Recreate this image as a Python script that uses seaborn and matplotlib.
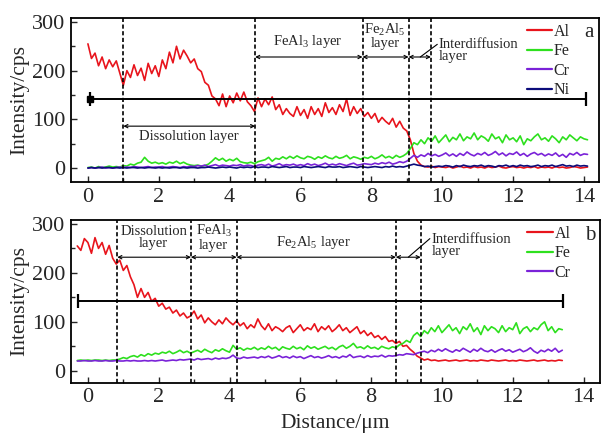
import matplotlib
matplotlib.use("Agg")
import matplotlib.pyplot as plt
from matplotlib.ticker import MultipleLocator
import numpy as np
import pandas as pd
import seaborn as sns

# sampling grids (um)
X_A = np.round(np.arange(142) * 0.1, 1)          # 0.0 .. 14.1
X_B = np.round(np.arange(138) * 0.1 - 0.3, 1)    # -0.3 .. 13.4

# panel a line scans (cps)
AL_A = [255, 225, 236, 210, 228, 204, 222, 208, 220, 195,
        170, 200, 186, 212, 190, 205, 180, 215, 194, 210,
        188, 222, 204, 238, 216, 250, 224, 242, 230, 216,
        224, 204, 198, 176, 170, 148, 142, 128, 152, 126,
        148, 134, 154, 138, 156, 136, 128, 116, 144, 126,
        142, 130, 146, 120, 130, 110, 122, 112, 106, 126,
        108, 120, 102, 126, 110, 122, 106, 134, 114, 124,
        110, 130, 116, 142, 108, 126, 112, 122, 106, 114,
        102, 112, 94, 104, 96, 90, 102, 84, 96, 82,
        76, 58, 30, 14, 6, 3, 2, 4, 1, 3,
        2, 1, 3, 0, 2, 4, 1, 2, 0, 3,
        1, 2, 0, 3, 1, 2, 4, 1, 0, 2,
        3, 1, 2, 0, 2, 1, 3, 0, 2, 1,
        2, 0, 3, 1, 2, 0, 1, 3, 2, 0, 1, 2]
FE_A = [1, 2, 0, 3, 1, 2, 4, 2, 3, 2,
        5, 4, 8, 6, 10, 12, 22, 14, 10, 12,
        9, 11, 8, 12, 10, 14, 9, 12, 8, 6,
        5, 6, 4, 5, 8, 14, 21, 16, 20, 14,
        18, 15, 20, 13, 11, 10, 12, 9, 13, 15,
        17, 22, 14, 20, 18, 23, 19, 24, 20, 25,
        21, 19, 24, 22, 18, 23, 20, 25, 21, 19,
        24, 20, 22, 26, 19, 23, 21, 18, 22, 20,
        24, 19, 22, 27, 21, 24, 20, 26, 22, 25,
        30, 40, 52, 48, 58, 50, 62, 55, 66, 52,
        60, 68, 54, 63, 58, 70, 56, 64, 60, 72,
        58, 66, 62, 55, 70, 60, 64, 52, 68, 58,
        62, 54, 66, 48, 60, 56, 64, 70, 58, 62,
        55, 66, 60, 52, 64, 58, 68, 62, 56, 64, 60, 58]
CR_A = [0, 1, 0, 1, 2, 0, 1, 0, 1, 2,
        1, 2, 1, 3, 2, 1, 2, 3, 1, 2,
        2, 3, 1, 2, 3, 2, 1, 3, 2, 4,
        3, 5, 4, 6, 3, 5, 7, 4, 6, 5,
        4, 6, 5, 7, 4, 6, 5, 3, 6, 7,
        5, 8, 4, 6, 9, 5, 7, 6, 8, 5,
        7, 5, 9, 6, 8, 5, 7, 10, 6, 8,
        6, 9, 7, 5, 8, 10, 6, 7, 9, 8,
        7, 10, 8, 11, 9, 12, 8, 10, 13, 11,
        14, 20, 26, 22, 27, 24, 30, 25, 28, 24,
        27, 31, 25, 29, 24, 30, 26, 33, 28, 25,
        30, 27, 32, 26, 29, 34, 27, 31, 25, 30,
        28, 33, 26, 30, 24, 29, 32, 27, 30, 25,
        29, 26, 31, 24, 28, 22, 30, 27, 32, 26, 29, 28]
NI_A = [0, 1, 0, 1, 0, 1, 1, 0, 1, 0,
        1, 0, 1, 1, 0, 1, 0, 1, 1, 0,
        1, 0, 1, 0, 1, 1, 0, 1, 0, 1,
        1, 0, 1, 1, 2, 1, 0, 1, 2, 1,
        2, 1, 0, 2, 1, 2, 1, 3, 1, 2,
        2, 1, 3, 2, 1, 2, 3, 1, 2, 2,
        1, 3, 2, 1, 2, 3, 2, 1, 3, 2,
        2, 3, 1, 2, 3, 2, 1, 3, 2, 1,
        2, 3, 2, 1, 3, 2, 4, 2, 3, 2,
        4, 6, 8, 6, 5, 3, 4, 2, 3, 4,
        3, 5, 4, 2, 5, 3, 6, 4, 3, 5,
        4, 6, 3, 5, 4, 2, 5, 4, 6, 3,
        5, 3, 6, 4, 5, 3, 4, 6, 3, 5,
        4, 6, 3, 5, 7, 4, 5, 3, 6, 4, 5, 4]

# panel b line scans (cps)
AL_B = [255, 246, 270, 262, 240, 272, 250, 262, 238, 256,
        230, 218, 226, 205, 215, 192, 176, 150, 168, 150,
        160, 142, 148, 132, 138, 126, 130, 118, 124, 112,
        118, 108, 112, 122, 106, 114, 98, 108, 100, 94,
        104, 96, 108, 100, 94, 102, 92, 98, 86, 94,
        88, 106, 92, 84, 96, 82, 90, 86, 80, 88,
        92, 78, 86, 94, 82, 88, 84, 96, 80, 90,
        84, 92, 80, 86, 94, 82, 88, 78, 84, 90,
        76, 82, 72, 78, 68, 72, 64, 70, 60, 62,
        56, 60, 50, 52, 44, 38, 30, 26, 22, 24,
        21, 22, 20, 21, 22, 20, 21, 22, 20, 21,
        22, 20, 21, 20, 22, 21, 20, 22, 21, 20,
        21, 22, 20, 21, 20, 22, 21, 20, 21, 22,
        20, 21, 22, 20, 21, 20, 22, 21]
FE_B = [21, 22, 21, 22, 21, 22, 22, 21, 22, 21,
        22, 22, 24, 27, 25, 29, 31, 28, 33, 30,
        35, 32, 36, 34, 38, 36, 40, 35, 38, 42,
        37, 40, 36, 39, 42, 38, 44, 40, 37, 43,
        40, 45, 41, 38, 52, 44, 47, 42, 46, 44,
        48, 43, 47, 44, 50, 45, 48, 42, 49, 46,
        44, 50, 45, 48, 43, 51, 46, 49, 44, 47,
        50, 45, 48, 43, 49, 52, 46, 50, 56, 47,
        49, 45, 51, 46, 48, 44, 50, 47, 45, 49,
        47, 53, 56, 62, 58, 72, 78, 70, 82, 76,
        88, 80, 92, 78, 86, 94, 82, 88, 76, 90,
        84, 96, 80, 88, 74, 92, 82, 90, 86, 78,
        92, 80, 88, 84, 98, 76, 86, 90, 80, 88,
        84, 94, 100, 82, 90, 78, 86, 84]
CR_B = [20, 20, 21, 20, 20, 21, 20, 20, 21, 20,
        20, 21, 20, 20, 21, 20, 21, 20, 20, 21,
        20, 21, 20, 21, 22, 20, 21, 22, 21, 23,
        22, 23, 24, 22, 25, 23, 24, 25, 23, 26,
        24, 26, 25, 27, 32, 26, 25, 28, 26, 27,
        28, 26, 29, 27, 30, 26, 28, 31, 27, 29,
        26, 30, 27, 29, 25, 28, 31, 27, 29, 26,
        28, 31, 27, 29, 26, 30, 28, 33, 27, 29,
        30, 27, 31, 28, 30, 29, 32, 28, 31, 30,
        31, 33, 32, 35, 34, 33, 36, 38, 40, 37,
        42, 39, 44, 40, 45, 41, 38, 43, 40, 46,
        42, 38, 44, 40, 46, 41, 39, 43, 38, 42,
        45, 40, 43, 38, 41, 44, 39, 42, 47, 40,
        36, 42, 39, 44, 40, 46, 38, 42]

# layer boundaries (um)
BOUNDS_A = [1.0, 4.72, 7.75, 9.05, 9.68]
BOUNDS_B = [0.83, 2.91, 4.2, 8.7, 9.4]

COLORS = {"Al": "#e8141c", "Fe": "#2ee01e", "Cr": "#7a22d8", "Ni": "#0c0c7a"}

sns.set_theme(style="ticks")
plt.rcParams["font.family"] = ["Liberation Serif", "DejaVu Serif"]
plt.rcParams["mathtext.default"] = "regular"


def long_form(x, series):
    frames = [pd.DataFrame({"Distance": x, "Intensity": v, "Element": k})
              for k, v in series.items()]
    return pd.concat(frames, ignore_index=True)


def style_axes(ax, xlim, ylim):
    ax.set_xlim(*xlim)
    ax.set_ylim(*ylim)
    ax.xaxis.set_major_locator(MultipleLocator(2))
    ax.xaxis.set_minor_locator(MultipleLocator(1))
    ax.yaxis.set_major_locator(MultipleLocator(100))
    ax.yaxis.set_minor_locator(MultipleLocator(50))
    ax.tick_params(which="both", direction="in", labelsize=16, width=1.0,
                   top=False, right=False, pad=4)
    ax.tick_params(which="major", length=4)
    ax.tick_params(which="minor", length=3)
    for s in ax.spines.values():
        s.set_visible(True)
        s.set_linewidth(1.3)
        s.set_color("black")
    ax.set_ylabel("Intensity/cps", fontsize=15.5, labelpad=2)
    ax.set_xlabel("")


def span(ax, x0, x1, y):
    ax.annotate("", xy=(x0, y), xytext=(x1, y),
                arrowprops=dict(arrowstyle="<->", lw=0.8, color="black",
                                shrinkA=0, shrinkB=0, mutation_scale=6))


def scale_bar(ax, x0, x1, y):
    ax.plot([x0, x1], [y, y], color="black", lw=1.4)
    ax.plot([x0, x1], [y, y], ls="none", marker="|", ms=10, mew=1.6, color="black")


def legend(ax):
    handles, labels = ax.get_legend_handles_labels()
    for h in handles:
        h.set_linewidth(1.6)
    ax.legend(handles, labels, loc="upper right", bbox_to_anchor=(0.955, 1.0),
              frameon=False, fontsize=11.5, handlelength=1.6, handletextpad=0.1,
              labelspacing=0.22, borderaxespad=0.15, borderpad=0.2)


fig = plt.figure(figsize=(6.01, 4.40), dpi=100)
ax_a = fig.add_axes([0.118, 0.586, 0.879, 0.373])
ax_b = fig.add_axes([0.118, 0.130, 0.880, 0.370])

# ---- panel a ----
df_a = long_form(X_A, {"Al": AL_A, "Fe": FE_A, "Cr": CR_A, "Ni": NI_A})
sns.lineplot(data=df_a, x="Distance", y="Intensity", hue="Element",
             hue_order=["Al", "Fe", "Cr", "Ni"], palette=COLORS,
             estimator=None, sort=False, lw=1.2, ax=ax_a)
style_axes(ax_a, (-0.48, 14.43), (-29, 308))
for b in BOUNDS_A:
    ax_a.axvline(b, color="black", lw=1.2, ls=(0, (2.5, 1.5)))
scale_bar(ax_a, 0.05, 14.07, 142)
ax_a.plot([0.05], [142], marker="s", ms=4, color="black")
span(ax_a, BOUNDS_A[0], BOUNDS_A[1], 86)
ax_a.text(2.86, 64, "Dissolution layer", ha="center", va="center", fontsize=10.5)
span(ax_a, BOUNDS_A[1], BOUNDS_A[2], 228)
span(ax_a, BOUNDS_A[2], BOUNDS_A[3], 228)
span(ax_a, BOUNDS_A[3], BOUNDS_A[4], 228)
ax_a.text(6.2, 259, "FeAl$_3$ layer", ha="center", va="center", fontsize=10.5)
ax_a.text(8.38, 272, "Fe$_2$Al$_5$\nlayer", ha="center", va="center",
          fontsize=10.5, linespacing=0.9)
ax_a.plot([9.38, 9.86], [228, 254], color="black", lw=0.8)
ax_a.text(9.9, 241, "Interdiffusion\nlayer", ha="left", va="center",
          fontsize=10.5, linespacing=0.95)
ax_a.text(14.15, 278, "a", ha="center", va="center", fontsize=15)
legend(ax_a)

# ---- panel b ----
df_b = long_form(X_B, {"Al": AL_B, "Fe": FE_B, "Cr": CR_B})
sns.lineplot(data=df_b, x="Distance", y="Intensity", hue="Element",
             hue_order=["Al", "Fe", "Cr"], palette=COLORS,
             estimator=None, sort=False, lw=1.2, ax=ax_b)
style_axes(ax_b, (-0.48, 14.46), (-24.5, 308))
for b in BOUNDS_B:
    ax_b.axvline(b, color="black", lw=1.2, ls=(0, (2.5, 1.5)))
scale_bar(ax_b, -0.28, 13.42, 143)
span(ax_b, BOUNDS_B[0], BOUNDS_B[1], 232)
span(ax_b, BOUNDS_B[1], BOUNDS_B[2], 232)
span(ax_b, BOUNDS_B[2], BOUNDS_B[3], 232)
span(ax_b, BOUNDS_B[3], BOUNDS_B[4], 232)
ax_b.text(1.86, 272, "Dissolution\nlayer", ha="center", va="center",
          fontsize=10.5, linespacing=0.95)
ax_b.text(3.55, 272, "FeAl$_3$\nlayer", ha="center", va="center",
          fontsize=10.5, linespacing=0.95)
ax_b.text(6.37, 262, "Fe$_2$Al$_5$ layer", ha="center", va="center", fontsize=10.5)
ax_b.plot([9.05, 9.66], [232, 270], color="black", lw=0.8)
ax_b.text(9.7, 256, "Interdiffusion\nlayer", ha="left", va="center",
          fontsize=10.5, linespacing=0.95)
ax_b.text(14.18, 276, "b", ha="center", va="center", fontsize=15)
ax_b.set_xlabel("Distance/\u03bcm", fontsize=15.5, labelpad=5)
legend(ax_b)

fig.savefig("out.png", dpi=100)
